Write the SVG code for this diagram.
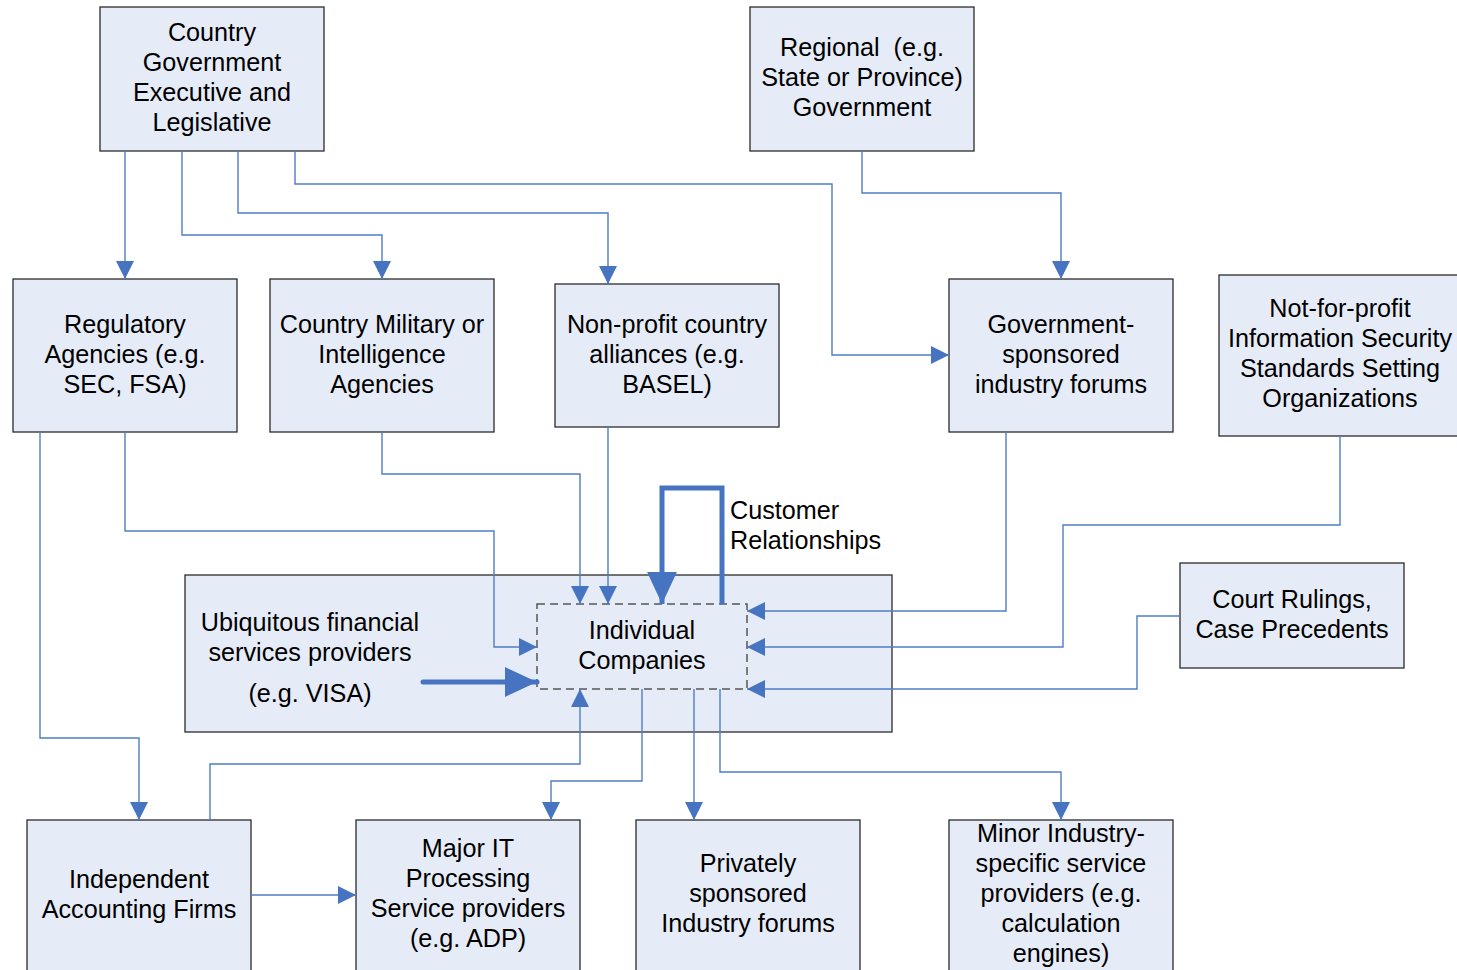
<svg xmlns="http://www.w3.org/2000/svg" width="1457" height="970" viewBox="0 0 1457 970">
<style>
.box{fill:#E6ECF7;stroke:#2b2b2b;stroke-width:1.3}
.dash{fill:none;stroke:#555;stroke-width:1.5;stroke-dasharray:8 5}
.t{font-family:"Liberation Sans",Arial,sans-serif;font-size:25.2px;fill:#000;text-anchor:middle;dominant-baseline:central}
.tl{font-family:"Liberation Sans",Arial,sans-serif;font-size:25.2px;fill:#000;text-anchor:start;dominant-baseline:central}
.c{fill:none;stroke:#4F7DC6;stroke-width:1.4}
.ck{fill:none;stroke:#4674C1;stroke-width:5;stroke-linejoin:miter}
</style>
<defs>
<marker id="a" markerUnits="userSpaceOnUse" markerWidth="18" markerHeight="18" viewBox="0 0 16 16" refX="16" refY="8" orient="auto">
<path d="M0,0 L16,8 L0,16 Z" fill="#4674C1"/>
</marker>
<marker id="ak" markerUnits="userSpaceOnUse" markerWidth="32" markerHeight="30" viewBox="0 0 30 28" refX="30" refY="14" orient="auto">
<path d="M0,0 L30,14 L0,28 Z" fill="#4674C1"/>
</marker>
</defs>
<rect width="1457" height="970" fill="#fff"/>

<g id="n-container"><rect class="box" x="185" y="575" width="707" height="157"/>
<text class="t" x="310" y="622">Ubiquitous financial</text>
<text class="t" x="310" y="652">services providers</text>
<text class="t" x="310" y="693">(e.g. VISA)</text></g>

<g id="n-gov"><rect class="box" x="100" y="7" width="224" height="144"/>
<text class="t" x="212" y="32">Country</text><text class="t" x="212" y="62">Government</text><text class="t" x="212" y="92">Executive and</text><text class="t" x="212" y="122">Legislative</text></g>

<g id="n-regional"><rect class="box" x="750" y="7" width="224" height="144"/>
<text class="t" x="862" y="47" xml:space="preserve">Regional  (e.g.</text><text class="t" x="862" y="77">State or Province)</text><text class="t" x="862" y="107">Government</text></g>

<g id="n-regulatory"><rect class="box" x="13" y="279" width="224" height="153"/>
<text class="t" x="125" y="324">Regulatory</text><text class="t" x="125" y="354">Agencies (e.g.</text><text class="t" x="125" y="384">SEC, FSA)</text></g>

<g id="n-military"><rect class="box" x="270" y="279" width="224" height="153"/>
<text class="t" x="382" y="324">Country Military or</text><text class="t" x="382" y="354">Intelligence</text><text class="t" x="382" y="384">Agencies</text></g>

<g id="n-nonprofit"><rect class="box" x="555" y="284" width="224" height="143"/>
<text class="t" x="667" y="324">Non-profit country</text><text class="t" x="667" y="354">alliances (e.g.</text><text class="t" x="667" y="384">BASEL)</text></g>

<g id="n-govforums"><rect class="box" x="949" y="279" width="224" height="153"/>
<text class="t" x="1061" y="324">Government-</text><text class="t" x="1061" y="354">sponsored</text><text class="t" x="1061" y="384">industry forums</text></g>

<g id="n-infosec"><rect class="box" x="1219" y="275" width="250" height="161"/>
<text class="t" x="1340" y="308">Not-for-profit</text><text class="t" x="1340" y="338">Information Security</text><text class="t" x="1340" y="368">Standards Setting</text><text class="t" x="1340" y="398">Organizations</text></g>

<g id="n-court"><rect class="box" x="1180" y="563" width="224" height="105"/>
<text class="t" x="1292" y="599">Court Rulings,</text><text class="t" x="1292" y="629">Case Precedents</text></g>

<g id="n-individual"><rect class="dash" x="537" y="604" width="210" height="85"/>
<text class="t" x="642" y="630">Individual</text><text class="t" x="642" y="660">Companies</text></g>

<g id="n-accounting"><rect class="box" x="27" y="820" width="224" height="160"/>
<text class="t" x="139" y="879">Independent</text><text class="t" x="139" y="909">Accounting Firms</text></g>

<g id="n-majorit"><rect class="box" x="356" y="820" width="224" height="160"/>
<text class="t" x="468" y="848">Major IT</text><text class="t" x="468" y="878">Processing</text><text class="t" x="468" y="908">Service providers</text><text class="t" x="468" y="938">(e.g. ADP)</text></g>

<g id="n-private"><rect class="box" x="636" y="820" width="224" height="160"/>
<text class="t" x="748" y="863">Privately</text><text class="t" x="748" y="893">sponsored</text><text class="t" x="748" y="923">Industry forums</text></g>

<g id="n-minor"><rect class="box" x="949" y="820" width="224" height="160"/>
<text class="t" x="1061" y="833">Minor Industry-</text><text class="t" x="1061" y="863">specific service</text><text class="t" x="1061" y="893">providers (e.g.</text><text class="t" x="1061" y="923">calculation</text><text class="t" x="1061" y="953">engines)</text></g>

<g id="label-customer"><text class="tl" x="730" y="510">Customer</text><text class="tl" x="730" y="540">Relationships</text></g>

<g id="connectors">
<path class="c" marker-end="url(#a)" d="M125,151 V279"/>
<path class="c" marker-end="url(#a)" d="M182,151 V235 H382 V279"/>
<path class="c" marker-end="url(#a)" d="M238,151 V213 H608 V284"/>
<path class="c" marker-end="url(#a)" d="M295,151 V184 H832 V355 H949"/>
<path class="c" marker-end="url(#a)" d="M862,151 V193 H1061 V279"/>
<path class="c" marker-end="url(#a)" d="M40,432 V738 H139 V820"/>
<path class="c" marker-end="url(#a)" d="M125,432 V531 H494 V647 H537"/>
<path class="c" marker-end="url(#a)" d="M382,432 V474 H580 V604"/>
<path class="c" marker-end="url(#a)" d="M608,427 V604"/>
<path class="c" marker-end="url(#a)" d="M1006,432 V611 H747"/>
<path class="c" marker-end="url(#a)" d="M1340,436 V525 H1063 V647 H747"/>
<path class="c" marker-end="url(#a)" d="M1180,616 H1137 V689 H747"/>
<path class="c" marker-end="url(#a)" d="M210,820 V764 H580 V689"/>
<path class="c" marker-end="url(#a)" d="M251,895 H356"/>
<path class="c" marker-end="url(#a)" d="M642,689 V781 H551 V820"/>
<path class="c" marker-end="url(#a)" d="M694,689 V820"/>
<path class="c" marker-end="url(#a)" d="M720,689 V772 H1061 V820"/>
<path class="ck" marker-end="url(#ak)" d="M722,604 V488 H662 V604"/>
<path class="ck" marker-end="url(#ak)" stroke-linecap="round" d="M423,682 H537"/>
</g>
</svg>
